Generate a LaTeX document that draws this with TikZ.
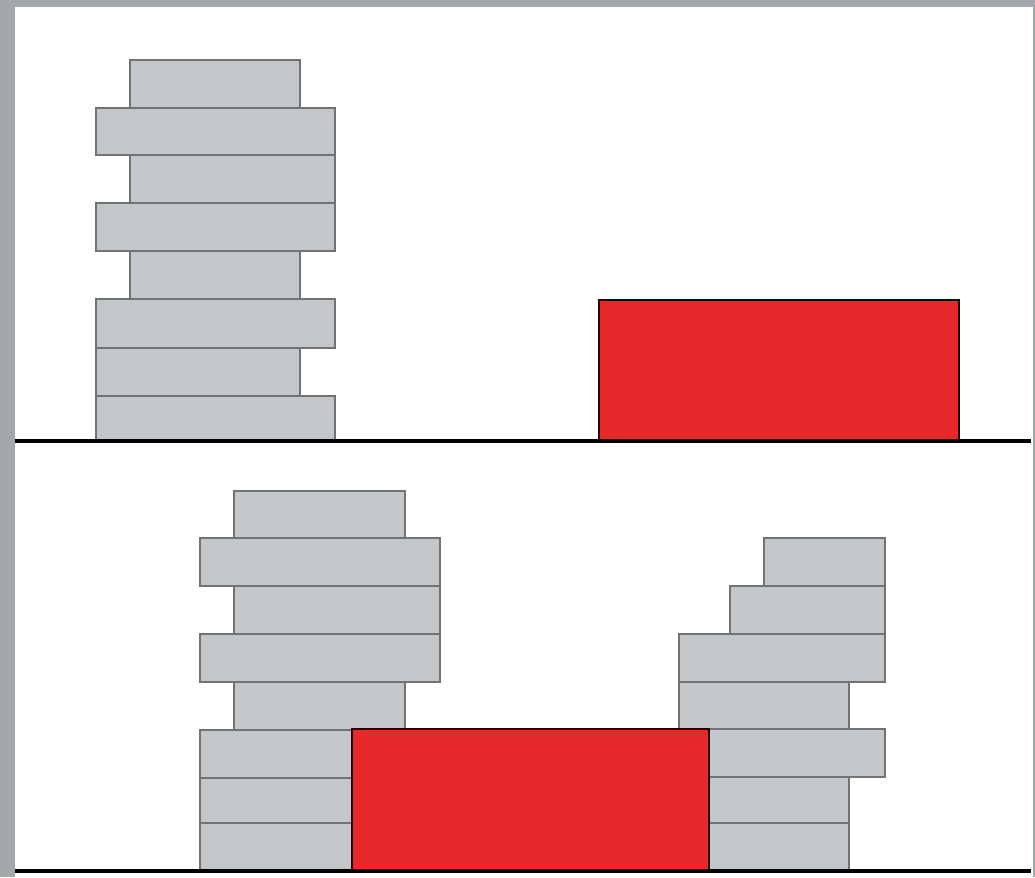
\documentclass[tikz,border=0pt]{standalone}
\usepackage{tikz}

\definecolor{framegray}{HTML}{A3A8AB}
\definecolor{slabgray}{HTML}{C4C7CA}
\definecolor{slabedge}{HTML}{707274}
\definecolor{blockred}{HTML}{E8292B}

\tikzset{
  slab/.style={fill=slabgray, draw=slabedge, line width=0.8pt},
  redblock/.style={fill=blockred, draw=black!85!red, line width=1.2pt},
  ground/.style={draw=black, line width=2.3pt}
}

\begin{document}
\begin{tikzpicture}[x=0.02cm, y=-0.02cm]
  \fill[framegray] (0,0) rectangle (1035,877);
  \fill[white] (15,7) rectangle (1033,877);
  \useasboundingbox (0,0) rectangle (1035,877);

  \foreach \xa/\xb/\ya/\yb in {130/300/60/108, 96/335/108/155, 130/335/155/203, 96/335/203/251,
                               130/300/251/299, 96/335/299/348, 96/300/348/396, 96/335/396/441}
    \draw[slab] (\xa,\ya) rectangle (\xb,\yb);
  \draw[redblock] (599,300) rectangle (959,441);
  \coordinate (g1l) at (15,441);
  \coordinate (g1r) at (1031,441);
  \draw[ground] (g1l) -- (g1r);

  \foreach \xa/\xb/\ya/\yb in {234/405/491/538, 200/440/538/586, 234/440/586/634, 200/440/634/682,
                               234/405/682/730, 200/420/730/778, 200/420/778/823, 200/420/823/871}
    \draw[slab] (\xa,\ya) rectangle (\xb,\yb);
  \foreach \xa/\xb/\ya/\yb in {764/885/538/586, 730/885/586/634, 679/885/634/682, 679/849/682/729,
                               650/885/729/777, 650/849/777/823, 650/849/823/871}
    \draw[slab] (\xa,\ya) rectangle (\xb,\yb);
  \draw[redblock] (352,729) rectangle (709,871);
  \coordinate (g2l) at (15,871);
  \coordinate (g2r) at (1031,871);
  \draw[ground] (g2l) -- (g2r);
\end{tikzpicture}
\end{document}
